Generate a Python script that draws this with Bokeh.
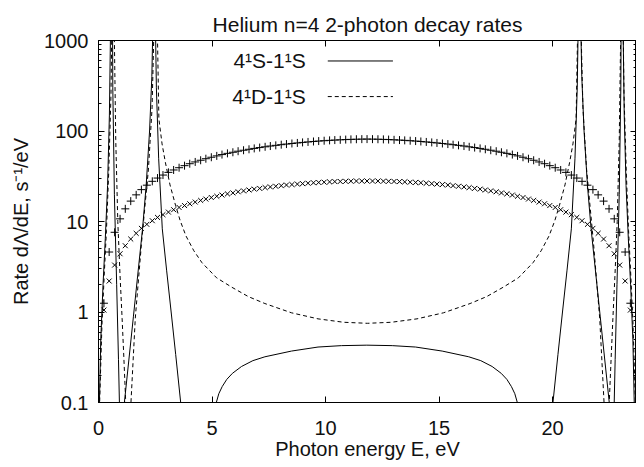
from bokeh.plotting import figure
from bokeh.models import Range1d, LinearAxis, LogAxis, FixedTicker, Label, Arrow
from bokeh.embed import file_html
from bokeh.resources import INLINE

# ---------------- data ----------------
# photon energies of the marker points (eV)
marker_e = [0.24, 0.47, 0.71, 0.95, 1.18, 1.42, 1.66, 1.89, 2.13, 2.37,
            2.60, 2.84, 3.08, 3.31, 3.55, 3.79, 4.02, 4.26, 4.50, 4.73,
            4.97, 5.21, 5.44, 5.68, 5.92, 6.15, 6.39, 6.63, 6.86, 7.10,
            7.34, 7.57, 7.81, 8.05, 8.28, 8.52, 8.76, 8.99, 9.23, 9.47,
            9.70, 9.94, 10.18, 10.41, 10.65, 10.89, 11.12, 11.36, 11.60, 11.83,
            12.07, 12.31, 12.55, 12.78, 13.02, 13.26, 13.49, 13.73, 13.97, 14.20,
            14.44, 14.68, 14.91, 15.15, 15.39, 15.62, 15.86, 16.10, 16.33, 16.57,
            16.81, 17.04, 17.28, 17.52, 17.75, 17.99, 18.23, 18.46, 18.70, 18.94,
            19.17, 19.41, 19.65, 19.88, 20.12, 20.36, 20.59, 20.83, 21.07, 21.30,
            21.54, 21.78, 22.01, 22.25, 22.49, 22.72, 22.96, 23.20, 23.43]

plus_rate = [1.25, 4.6, 7.6, 10.7, 13.8, 16.8, 19.7, 22.5, 25.2, 27.8,
             30.2, 32.6, 34.9, 37.1, 39.3, 41.4, 43.5, 45.5, 47.5, 49.4,
             51.3, 53.1, 54.9, 56.6, 58.2, 59.8, 61.3, 62.8, 64.2, 65.6,
             66.9, 68.2, 69.4, 70.6, 71.7, 72.8, 73.8, 74.8, 75.7, 76.6,
             77.4, 78.1, 78.8, 79.4, 79.9, 80.4, 80.8, 81.1, 81.3, 81.4,
             81.3, 81.1, 80.8, 80.4, 79.9, 79.4, 78.8, 78.1, 77.4, 76.6,
             75.7, 74.8, 73.8, 72.8, 71.7, 70.6, 69.4, 68.2, 66.9, 65.6,
             64.2, 62.8, 61.3, 59.8, 58.2, 56.6, 54.9, 53.1, 51.3, 49.4,
             47.5, 45.5, 43.5, 41.4, 39.3, 37.1, 34.9, 32.6, 30.2, 27.8,
             25.2, 22.5, 19.7, 16.8, 13.8, 10.7, 7.6, 4.6, 1.25]

cross_rate = [1.05, 2.2, 3.3, 4.4, 5.4, 6.4, 7.4, 8.4, 9.3, 10.2,
              11.1, 11.9, 12.7, 13.5, 14.3, 15.0, 15.7, 16.4, 17.1, 17.7,
              18.4, 19.0, 19.6, 20.2, 20.7, 21.3, 21.8, 22.3, 22.8, 23.2,
              23.7, 24.1, 24.5, 24.9, 25.3, 25.6, 25.9, 26.2, 26.5, 26.8,
              27.0, 27.2, 27.4, 27.6, 27.7, 27.8, 27.9, 28.0, 28.0, 28.0,
              28.0, 28.0, 27.9, 27.8, 27.7, 27.6, 27.4, 27.2, 27.0, 26.8,
              26.5, 26.2, 25.9, 25.6, 25.3, 24.9, 24.5, 24.1, 23.7, 23.2,
              22.8, 22.3, 21.8, 21.3, 20.7, 20.2, 19.6, 19.0, 18.4, 17.7,
              17.1, 16.4, 15.7, 15.0, 14.3, 13.5, 12.7, 11.9, 11.1, 10.2,
              9.3, 8.4, 7.4, 6.4, 5.4, 4.4, 3.3, 2.2, 1.05]

# 4^1S - 1^1S (solid)
s_e = [0.0, 0.04, 0.1, 0.2, 0.3, 0.4, 0.48, 0.54, 0.57, 0.60,
       0.63, 0.70, 0.80, 0.88, 0.93, 1.0, 1.08, 1.14, 1.54, 1.94,
       2.1, 2.25, 2.35, 2.42, 2.44, 2.47, 2.5, 2.55, 2.65, 2.81,
       3.0, 3.2, 3.4, 3.62, 3.8, 4.4, 5.0, 5.19, 5.3, 5.45,
       5.65, 5.9, 6.3, 6.8, 7.33, 8.5, 9.67, 10.7, 11.82,
       12.94, 13.97, 15.14, 16.31, 16.84, 17.34, 17.74, 17.99, 18.19, 18.34,
       18.45, 18.64, 19.24, 19.84, 20.02, 20.24, 20.44, 20.64, 20.83, 20.99,
       21.09, 21.14, 21.17, 21.2, 21.22, 21.29, 21.39, 21.54, 21.7, 22.1,
       22.5, 22.56, 22.64, 22.71, 22.76, 22.84, 22.94, 23.01, 23.04, 23.07,
       23.1, 23.16, 23.24, 23.34, 23.44, 23.54, 23.6, 23.64]
s_rate = [0.001, 0.1, 0.5, 2.0, 6.5, 25, 150, 2000, 20000, 20000,
          300, 20, 2.0, 0.3, 0.08, 0.01, 0.01, 0.1, 0.9, 8.3,
          25, 100, 400, 3000, 20000, 20000, 2000, 300, 50, 8.3,
          2.9, 1.0, 0.34, 0.1, 0.03, 0.001, 0.04, 0.1, 0.125, 0.15,
          0.18, 0.21, 0.25, 0.29, 0.32, 0.37, 0.41, 0.425, 0.43,
          0.425, 0.41, 0.37, 0.32, 0.29, 0.25, 0.21, 0.18, 0.15, 0.125,
          0.1, 0.04, 0.001, 0.03, 0.1, 0.34, 1.0, 2.9, 8.3, 50,
          300, 2000, 20000, 20000, 3000, 400, 100, 25, 8.3, 0.9,
          0.1, 0.01, 0.01, 0.08, 0.3, 2.0, 20, 300, 20000, 20000,
          2000, 150, 25, 6.5, 2.0, 0.5, 0.1, 0.001]

# 4^1D - 1^1S (dashed)
d_e = [0.0, 0.05, 0.15, 0.25, 0.35, 0.45, 0.55, 0.61, 0.64, 0.67,
       0.70, 0.76, 0.85, 0.95, 1.04, 1.12, 1.2, 1.3, 1.43, 1.62,
       1.9, 2.2, 2.36, 2.46, 2.50, 2.54, 2.58, 2.66, 2.8, 2.95,
       3.15, 3.4, 3.6, 3.85, 4.2, 4.56, 5.2, 5.87, 6.6, 7.33,
       8.5, 9.67, 10.8, 11.85,
       12.9, 14.03, 15.2, 16.37, 17.1, 17.83, 18.5, 19.14, 19.5, 19.85,
       20.1, 20.3, 20.55, 20.75, 20.9, 21.04, 21.12, 21.16, 21.2, 21.24,
       21.34, 21.5, 21.8, 22.08, 22.27, 22.4, 22.5, 22.58, 22.66, 22.75,
       22.85, 22.94, 23.0, 23.03, 23.06, 23.09, 23.15, 23.25, 23.35, 23.45,
       23.55, 23.65, 23.70]
d_rate = [0.001, 0.1, 0.7, 2.5, 8, 35, 250, 4000, 20000, 20000,
          1000, 80, 10, 2.5, 0.85, 0.3, 0.1, 0.01, 0.1, 0.85,
          6, 38, 180, 2000, 20000, 20000, 2000, 136, 72, 44.5,
          25.4, 14.9, 10.2, 6.95, 4.75, 3.5, 2.39, 1.88, 1.48, 1.24,
          0.98, 0.84, 0.77, 0.75,
          0.77, 0.84, 0.98, 1.24, 1.48, 1.88, 2.39, 3.5, 4.75, 6.95,
          10.2, 14.9, 25.4, 44.5, 72, 136, 2000, 20000, 20000, 2000,
          180, 38, 6, 0.85, 0.1, 0.01, 0.1, 0.3, 0.85, 2.5,
          10, 80, 1000, 20000, 20000, 4000, 250, 35, 8, 2.5,
          0.7, 0.1, 0.001]

x_ticks = [0, 5, 10, 15, 20]
y_ticks = [0.1, 1, 10, 100, 1000]
y_tick_labels = ["0.1", "1", "10", "100", "1000"]
y_minor = [0.2, 0.3, 0.4, 0.5, 0.6, 0.7, 0.8, 0.9,
           2, 3, 4, 5, 6, 7, 8, 9,
           20, 30, 40, 50, 60, 70, 80, 90,
           200, 300, 400, 500, 600, 700, 800, 900]

title_text = "Helium n=4 2-photon decay rates"
legend_labels = ["4\u00b9S-1\u00b9S", "4\u00b9D-1\u00b9S"]

FONT = "Liberation Sans"

p = figure(width=636, height=463,
           x_range=Range1d(0, 23.7), y_range=Range1d(0.1, 1000),
           y_axis_type="log", output_backend="svg", toolbar_location=None,
           min_border_left=98, min_border_right=0, min_border_top=40,
           min_border_bottom=61)

p.title.text = title_text
p.title.align = "center"
p.title.text_font = FONT
p.title.text_font_size = "21px"
p.title.text_font_style = "normal"
p.title.text_color = "#111111"

p.xgrid.visible = False
p.ygrid.visible = False
p.outline_line_color = "black"
p.outline_line_width = 1
p.background_fill_color = "white"
p.border_fill_color = "white"

xa = p.xaxis[0]
xa.ticker = FixedTicker(ticks=x_ticks)
xa.axis_label = "Photon energy E, eV"
ya = p.yaxis[0]
ya.ticker = FixedTicker(ticks=y_ticks, minor_ticks=y_minor)
ya.major_label_overrides = {t: l for t, l in zip(y_ticks, y_tick_labels)}
ya.axis_label = "Rate d\u039b/dE, s\u207b\u00b9/eV"

for ax in (xa, ya):
    ax.major_tick_in = 6
    ax.major_tick_out = 0
    ax.minor_tick_in = 3
    ax.minor_tick_out = 0
    ax.major_label_text_font = FONT
    ax.major_label_text_font_size = "20px"
    ax.major_label_text_color = "#111111"
    ax.axis_label_text_font = FONT
    ax.axis_label_text_font_size = "20px"
    ax.axis_label_text_font_style = "normal"
    ax.axis_label_text_color = "#111111"
    ax.axis_line_color = "black"
xa.minor_tick_line_color = None
xa.major_label_standoff = 18
xa.axis_label_standoff = 0
ya.major_label_standoff = 10
ya.axis_label_standoff = 9

top = LinearAxis(ticker=FixedTicker(ticks=x_ticks), major_tick_in=6, major_tick_out=0,
                 minor_tick_line_color=None, major_label_text_font_size="1px",
                 major_label_text_alpha=0, major_label_standoff=0,
                 axis_line_color=None)
p.add_layout(top, "above")
right = LogAxis(ticker=FixedTicker(ticks=y_ticks, minor_ticks=y_minor), major_tick_in=6,
                major_tick_out=0, minor_tick_in=3, minor_tick_out=0,
                major_label_text_font_size="1px", major_label_text_alpha=0,
                major_label_standoff=0, axis_line_color=None)
p.add_layout(right, "right")

p.line(s_e, s_rate, line_color="black", line_width=1)
p.line(d_e, d_rate, line_color="black", line_width=1, line_dash="4 3")
p.scatter(marker_e, plus_rate, marker="cross", size=8, line_color="black", line_width=1)
p.scatter(marker_e, cross_rate, marker="x", size=7, line_color="black", line_width=1)

# legend (label on the left, line sample on the right)
for lab, ly, dash in zip(legend_labels, [594, 240], ["solid", "4 3"]):
    p.add_layout(Label(x=9.13, y=ly, text=lab, text_align="right", text_baseline="middle",
                       text_font=FONT, text_font_size="21px", text_color="#111111"))
    p.add_layout(Arrow(x_start=10.1, y_start=ly, x_end=12.97, y_end=ly, end=None,
                       line_color="black", line_width=1, line_dash=dash))

open("out.html", "w").write(file_html(p, INLINE))
